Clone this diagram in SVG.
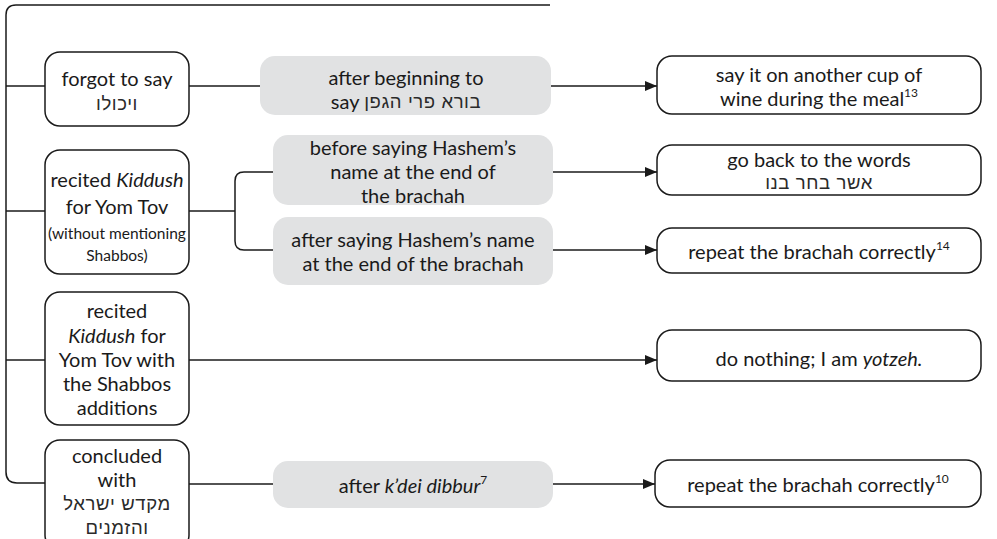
<svg xmlns="http://www.w3.org/2000/svg" width="997" height="539" viewBox="0 0 997 539">
<style>
  text { font-family: Lato, "Liberation Sans", "DejaVu Sans", sans-serif; font-size: 20px; fill: #1a1a1a; text-anchor: middle; dominant-baseline: central; }
  .heb { font-family: "Liberation Sans", "DejaVu Sans", sans-serif; font-size: 18.5px; letter-spacing: 0.6px; fill: #2a2a2a; }
  .sm { font-size: 15.5px; }
  .it { font-style: italic; }
  .sup { font-size: 12px; }
  .box { fill: #ffffff; stroke: #1a1a1a; stroke-width: 1.5; }
  .gray { fill: #e1e2e3; stroke: none; }
  .line { fill: none; stroke: #1a1a1a; stroke-width: 1.5; }
  .arrow { fill: none; stroke: #1a1a1a; stroke-width: 1.5; marker-end: url(#ah); }
</style>
<defs>
  <marker id="ah" viewBox="0 0 12 10" refX="12" refY="5" markerWidth="12" markerHeight="10" markerUnits="userSpaceOnUse" orient="auto">
    <path d="M0,0 L12,5 L0,10 z" fill="#1a1a1a"/>
  </marker>
</defs>

<g id="connectors">
  <path class="line" d="M550,5 H16 Q6,5 6,15 V472 Q6,483 17,483 H45"/>
  <path class="line" d="M6,86 H45"/>
  <path class="line" d="M6,211 H45"/>
  <path class="line" d="M6,360 H45"/>
  <path class="line" d="M189,86 H260"/>
  <path class="arrow" d="M551,86 H657"/>
  <path class="line" d="M189,211 H235"/>
  <path class="line" d="M273,172 H244 Q235,172 235,181 V241 Q235,250 244,250 H273"/>
  <path class="arrow" d="M553,172 H657"/>
  <path class="arrow" d="M553,250 H657"/>
  <path class="arrow" d="M189,360 H657"/>
  <path class="line" d="M189,484 H273"/>
  <path class="arrow" d="M553,484 H655"/>
</g>

<g id="n-forgot">
  <rect class="box" x="45" y="52" width="144" height="74" rx="15"/>
  <text x="117" y="78">forgot to say</text>
  <text class="heb" x="117" y="103">ויכולו</text>
</g>
<g id="n-after-beginning">
  <rect class="gray" x="260" y="56" width="291" height="59" rx="15"/>
  <text x="406" y="77">after beginning to</text>
  <text x="406" y="101">say <tspan class="heb">בורא פרי הגפן</tspan></text>
</g>
<g id="n-say-another">
  <rect class="box" x="657" y="56" width="324" height="58" rx="15"/>
  <text x="819" y="74">say it on another cup of</text>
  <text x="819" y="98">wine during the meal<tspan class="sup" dy="-6">13</tspan></text>
</g>

<g id="n-recited-yomtov">
  <rect class="box" x="45" y="150" width="144" height="124" rx="15"/>
  <text x="117" y="179">recited <tspan class="it">Kiddush</tspan></text>
  <text x="117" y="206">for Yom Tov</text>
  <text class="sm" x="117" y="233">(without mentioning</text>
  <text class="sm" x="117" y="255">Shabbos)</text>
</g>
<g id="n-before-saying">
  <rect class="gray" x="273" y="135" width="280" height="70" rx="15"/>
  <text x="413" y="147">before saying Hashem’s</text>
  <text x="413" y="171">name at the end of</text>
  <text x="413" y="195">the brachah</text>
</g>
<g id="n-go-back">
  <rect class="box" x="657" y="145" width="324" height="50" rx="15"/>
  <text x="819" y="159">go back to the words</text>
  <text class="heb" x="819" y="182">אשר בחר בנו</text>
</g>
<g id="n-after-saying">
  <rect class="gray" x="273" y="217" width="280" height="68" rx="15"/>
  <text x="413" y="239">after saying Hashem’s name</text>
  <text x="413" y="263">at the end of the brachah</text>
</g>
<g id="n-repeat-14">
  <rect class="box" x="657" y="228" width="324" height="45" rx="15"/>
  <text x="819" y="251">repeat the brachah correctly<tspan class="sup" dy="-6">14</tspan></text>
</g>

<g id="n-recited-shabbos">
  <rect class="box" x="45" y="292" width="144" height="133" rx="15"/>
  <text x="117" y="310">recited</text>
  <text x="117" y="335"><tspan class="it">Kiddush</tspan> for</text>
  <text x="117" y="359">Yom Tov with</text>
  <text x="117" y="383">the Shabbos</text>
  <text x="117" y="407">additions</text>
</g>
<g id="n-do-nothing">
  <rect class="box" x="657" y="330" width="324" height="51" rx="15"/>
  <text x="819" y="358">do nothing; I am <tspan class="it">yotzeh.</tspan></text>
</g>

<g id="n-concluded">
  <rect class="box" x="45" y="440" width="144" height="110" rx="15"/>
  <text x="117" y="455">concluded</text>
  <text x="117" y="479">with</text>
  <text class="heb" x="117" y="503">מקדש ישראל</text>
  <text class="heb" x="117" y="527">והזמנים</text>
</g>
<g id="n-kdei-dibbur">
  <rect class="gray" x="273" y="461" width="280" height="47" rx="15"/>
  <text x="413" y="485">after <tspan class="it">k’dei dibbur</tspan><tspan class="sup" dy="-6">7</tspan></text>
</g>
<g id="n-repeat-10">
  <rect class="box" x="655" y="460" width="326" height="47" rx="15"/>
  <text x="818" y="484">repeat the brachah correctly<tspan class="sup" dy="-6">10</tspan></text>
</g>
</svg>
